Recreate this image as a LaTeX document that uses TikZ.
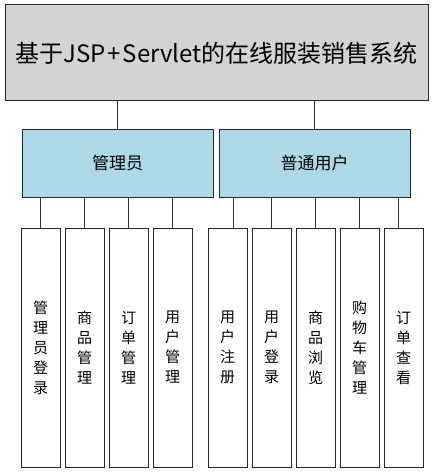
\documentclass[tikz,border=0pt]{standalone}
\usepackage{fontspec}
\newfontfamily\cjk{Noto Sans CJK SC}
\definecolor{sysgray}{HTML}{D3D3D3}
\definecolor{roleblue}{HTML}{ADD8E6}

\tikzset{
	every box/.style={draw=black!85, line width=1pt, inner sep=0pt},
	system box/.style={every box, fill=sysgray, minimum width=423pt, minimum height=96pt, font=\cjk\fontsize{24}{27}\selectfont},
	role box/.style={every box, fill=roleblue, minimum width=191pt, minimum height=67pt, font=\cjk\fontsize{17}{20}\selectfont},
	func box/.style={every box, fill=white, minimum width=39pt, minimum height=239pt, align=center, font=\cjk\fontsize{15}{20}\selectfont},
	link/.style={draw=black!80, line width=1pt}
}

\begin{document}
\begin{tikzpicture}[x=1pt, y=-1pt]
	\useasboundingbox (0,0) rectangle (433,473);
	
	\node [system box] (system) at (216.5,53) {基于JSP\kern2pt+\kern2pt Servlet的在线服装销售系统};
	
	\node [role box] (admin) at (117.5,163.5) {管理员};
	\node [role box] (user) at (314.5,163.5) {普通用户};
	
	\foreach \t [count=\i] in {{管\\理\\员\\登\\录}, {商\\品\\管\\理}, {订\\单\\管\\理}, {用\\户\\管\\理}}
	\node [func box] (admin-\i) at (40.5+44*\i-44,347.5) {\t};
	
	\foreach \t [count=\i] in {{用\\户\\注\\册}, {用\\户\\登\\录}, {商\\品\\浏\\览}, {购\\物\\车\\管\\理}, {订\\单\\查\\看}}
	\node [func box] (user-\i) at (227.5+44*\i-44,347.5) {\t};
	
	\foreach \r in {admin, user}
	\draw [link] (system.south -| \r.north) -- (\r.north);
	
	\foreach \i in {1,...,4}
	\draw [link] (admin.south -| admin-\i.north) -- (admin-\i.north);
	
	\foreach \i/\dx in {1/5.5, 2/0, 3/0, 4/0, 5/-5.5}
	\draw [link] ([xshift=\dx pt] user.south -| user-\i.north) -- ([xshift=\dx pt] user-\i.north);
\end{tikzpicture}
\end{document}
